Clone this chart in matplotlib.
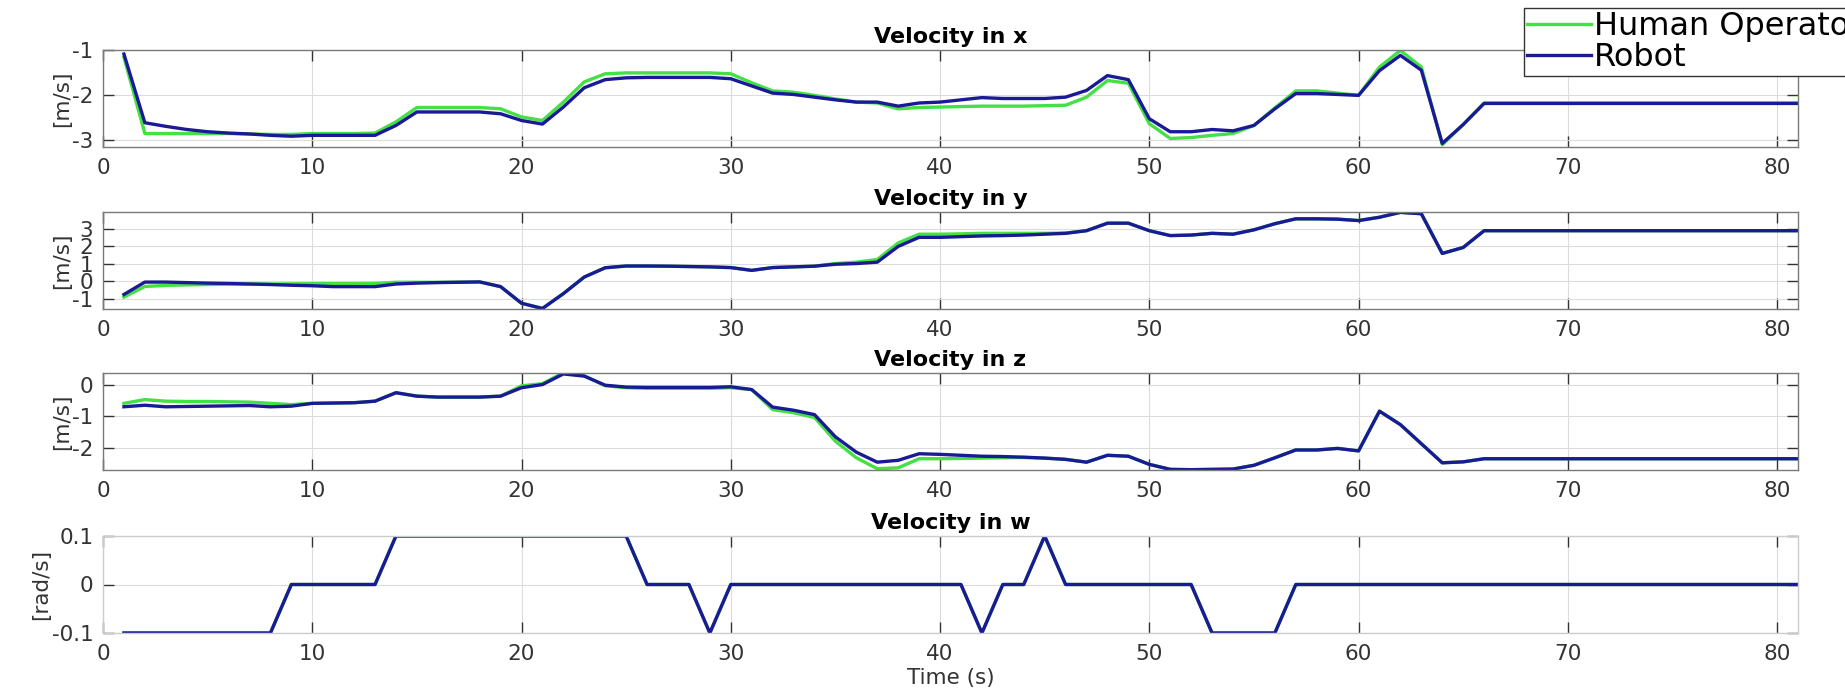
import matplotlib
matplotlib.use("Agg")
import matplotlib.pyplot as plt
from matplotlib.ticker import FuncFormatter

plt.rcParams["font.family"] = ["DejaVu Sans"]
plt.rcParams["axes.unicode_minus"] = False

# time in seconds, one sample per second
t = list(range(1, 82))

# velocity in x [m/s]
human_vx = [-1.15, -2.85, -2.85, -2.85, -2.85, -2.85, -2.86, -2.87, -2.87, -2.85,
            -2.85, -2.85, -2.84, -2.59, -2.27, -2.27, -2.27, -2.27, -2.30, -2.48,
            -2.56, -2.15, -1.70, -1.52, -1.50, -1.50, -1.50, -1.50, -1.50, -1.52,
            -1.72, -1.90, -1.93, -2.00, -2.08, -2.15, -2.17, -2.30, -2.27, -2.26,
            -2.25, -2.24, -2.24, -2.24, -2.23, -2.22, -2.04, -1.67, -1.73, -2.63,
            -2.96, -2.94, -2.89, -2.85, -2.67, -2.28, -1.90, -1.90, -1.95, -2.00,
            -1.37, -1.00, -1.37, -3.10, -2.65, -2.17, -2.17, -2.17, -2.17, -2.17,
            -2.17, -2.17, -2.17, -2.17, -2.17, -2.17, -2.17, -2.17, -2.17, -2.17,
            -2.17]
robot_vx = [-1.08, -2.61, -2.69, -2.76, -2.81, -2.84, -2.86, -2.89, -2.91, -2.89,
            -2.89, -2.89, -2.89, -2.67, -2.37, -2.37, -2.37, -2.37, -2.41, -2.56,
            -2.64, -2.26, -1.83, -1.65, -1.61, -1.60, -1.60, -1.60, -1.60, -1.63,
            -1.79, -1.95, -1.98, -2.04, -2.10, -2.15, -2.15, -2.24, -2.17, -2.15,
            -2.10, -2.05, -2.07, -2.07, -2.07, -2.04, -1.89, -1.56, -1.65, -2.52,
            -2.81, -2.81, -2.76, -2.79, -2.67, -2.30, -1.96, -1.96, -1.98, -2.00,
            -1.45, -1.11, -1.44, -3.07, -2.65, -2.18, -2.18, -2.18, -2.18, -2.18,
            -2.18, -2.18, -2.18, -2.18, -2.18, -2.18, -2.18, -2.18, -2.18, -2.18,
            -2.18]

# velocity in y [m/s]
human_vy = [-0.90, -0.29, -0.23, -0.20, -0.18, -0.16, -0.15, -0.15, -0.14, -0.13,
            -0.13, -0.13, -0.12, -0.05, -0.05, -0.05, -0.04, -0.03, -0.30, -1.25,
            -1.55, -0.70, 0.25, 0.78, 0.88, 0.88, 0.87, 0.85, 0.83, 0.79,
            0.63, 0.79, 0.83, 0.87, 1.02, 1.10, 1.25, 2.20, 2.70, 2.70,
            2.72, 2.75, 2.75, 2.75, 2.75, 2.77, 2.90, 3.33, 3.33, 2.90,
            2.62, 2.65, 2.75, 2.70, 2.95, 3.30, 3.58, 3.58, 3.56, 3.48,
            3.67, 3.95, 3.87, 1.60, 1.94, 2.90, 2.90, 2.90, 2.90, 2.90,
            2.90, 2.90, 2.90, 2.90, 2.90, 2.90, 2.90, 2.90, 2.90, 2.90,
            2.90]
robot_vy = [-0.75, -0.04, -0.04, -0.07, -0.10, -0.12, -0.15, -0.18, -0.22, -0.25,
            -0.30, -0.30, -0.30, -0.15, -0.10, -0.07, -0.05, -0.03, -0.30, -1.25,
            -1.55, -0.70, 0.25, 0.78, 0.88, 0.88, 0.87, 0.85, 0.83, 0.79,
            0.63, 0.79, 0.83, 0.87, 0.98, 1.02, 1.10, 2.00, 2.52, 2.52,
            2.56, 2.60, 2.62, 2.65, 2.70, 2.75, 2.90, 3.33, 3.33, 2.90,
            2.62, 2.65, 2.75, 2.70, 2.95, 3.30, 3.58, 3.58, 3.56, 3.48,
            3.67, 3.95, 3.87, 1.60, 1.94, 2.90, 2.90, 2.90, 2.90, 2.90,
            2.90, 2.90, 2.90, 2.90, 2.90, 2.90, 2.90, 2.90, 2.90, 2.90,
            2.90]

# velocity in z [m/s]
human_vz = [-0.58, -0.46, -0.51, -0.52, -0.52, -0.53, -0.54, -0.58, -0.62, -0.58,
            -0.57, -0.56, -0.51, -0.24, -0.35, -0.38, -0.38, -0.38, -0.35, -0.02,
            0.05, 0.40, 0.30, -0.02, -0.08, -0.10, -0.10, -0.10, -0.10, -0.08,
            -0.14, -0.78, -0.88, -1.03, -1.79, -2.32, -2.67, -2.64, -2.35, -2.35,
            -2.34, -2.33, -2.32, -2.31, -2.33, -2.37, -2.46, -2.24, -2.27, -2.53,
            -2.69, -2.70, -2.69, -2.68, -2.56, -2.32, -2.07, -2.07, -2.02, -2.10,
            -0.83, -1.26, -1.87, -2.48, -2.45, -2.35, -2.35, -2.35, -2.35, -2.35,
            -2.35, -2.35, -2.35, -2.35, -2.35, -2.35, -2.35, -2.35, -2.35, -2.35,
            -2.35]
robot_vz = [-0.69, -0.64, -0.69, -0.68, -0.67, -0.66, -0.65, -0.69, -0.67, -0.58,
            -0.57, -0.56, -0.51, -0.24, -0.35, -0.38, -0.38, -0.38, -0.35, -0.08,
            0.02, 0.36, 0.29, 0.00, -0.06, -0.07, -0.07, -0.07, -0.07, -0.05,
            -0.14, -0.70, -0.80, -0.94, -1.65, -2.14, -2.46, -2.40, -2.19, -2.21,
            -2.24, -2.27, -2.28, -2.30, -2.33, -2.37, -2.46, -2.24, -2.27, -2.53,
            -2.69, -2.70, -2.69, -2.68, -2.56, -2.32, -2.07, -2.07, -2.02, -2.10,
            -0.83, -1.26, -1.87, -2.48, -2.45, -2.35, -2.35, -2.35, -2.35, -2.35,
            -2.35, -2.35, -2.35, -2.35, -2.35, -2.35, -2.35, -2.35, -2.35, -2.35,
            -2.35]

# velocity in w [rad/s] (same for both)
human_vw = [-0.1, -0.1, -0.1, -0.1, -0.1, -0.1, -0.1, -0.1, 0.0, 0.0,
            0.0, 0.0, 0.0, 0.1, 0.1, 0.1, 0.1, 0.1, 0.1, 0.1,
            0.1, 0.1, 0.1, 0.1, 0.1, 0.0, 0.0, 0.0, -0.1, 0.0,
            0.0, 0.0, 0.0, 0.0, 0.0, 0.0, 0.0, 0.0, 0.0, 0.0,
            0.0, -0.1, 0.0, 0.0, 0.1, 0.0, 0.0, 0.0, 0.0, 0.0,
            0.0, 0.0, -0.1, -0.1, -0.1, -0.1, 0.0, 0.0, 0.0, 0.0,
            0.0, 0.0, 0.0, 0.0, 0.0, 0.0, 0.0, 0.0, 0.0, 0.0,
            0.0, 0.0, 0.0, 0.0, 0.0, 0.0, 0.0, 0.0, 0.0, 0.0,
            0.0]
robot_vw = list(human_vw)

titles = ["Velocity in x", "Velocity in y", "Velocity in z", "Velocity in w"]
ylabels = ["[m/s]", "[m/s]", "[m/s]", "[rad/s]"]
yticks = [[-3, -2, -1], [-1, 0, 1, 2, 3], [-2, -1, 0], [-0.1, 0, 0.1]]
ylims = [(-3.15, -0.99), (-1.58, 3.97), (-2.71, 0.39), (-0.1, 0.1)]
xticks = [0, 10, 20, 30, 40, 50, 60, 70, 80]

green = "#44e044"
blue = "#1a1a96"

W, H = 1845, 694
fig = plt.figure(figsize=(W / 100, H / 100), dpi=100)

left = 103 / W
width = (1798 - 103) / W
tops = [50, 212, 373, 536]
ax_h = 97

pairs = [(human_vx, robot_vx), (human_vy, robot_vy),
         (human_vz, robot_vz), (human_vw, robot_vw)]

axes = []
for i, (hum, rob) in enumerate(pairs):
    ax = fig.add_axes([left, 1 - (tops[i] + ax_h) / H, width, ax_h / H])
    ax.plot(t, hum, color=green, lw=2.4, label="Human Operator")
    ax.plot(t, rob, color=blue, lw=2.4, label="Robot")
    ax.set_xlim(0, 81)
    ax.set_ylim(*ylims[i])
    ax.set_xticks(xticks)
    ax.set_yticks(yticks[i])
    ax.yaxis.set_major_formatter(FuncFormatter(lambda v, p: "%g" % v))
    ax.grid(True, color="#dcdcdc", lw=0.8)
    ax.tick_params(direction="in", top=True, right=True, length=8,
                   labelsize=15.5, colors="#333333", width=1)
    ax.tick_params(axis="x", pad=8)
    ax.tick_params(axis="y", pad=7)
    edge = "#cccccc" if i == 3 else "#7a7a7a"
    for s in ax.spines.values():
        s.set_color(edge)
        s.set_linewidth(1)
    ax.set_title(titles[i], fontsize=16, fontweight="bold", pad=5)
    ax.set_ylabel(ylabels[i], fontsize=15.5, color="#333333", labelpad=0)
    axes.append(ax)

axes[3].set_xlabel("Time (s)", fontsize=15.5, color="#333333", labelpad=3)

h, l = axes[0].get_legend_handles_labels()
leg = fig.legend(h, l, loc="upper left", bbox_to_anchor=(1524 / W, 1 - 8 / H),
                 fontsize=23, frameon=True, fancybox=False, framealpha=1,
                 edgecolor="#333333", borderaxespad=0, borderpad=0.1,
                 labelspacing=0.0, handlelength=2.0, handletextpad=0.1)
leg.get_frame().set_linewidth(1)

fig.savefig("out.png", dpi=100)
